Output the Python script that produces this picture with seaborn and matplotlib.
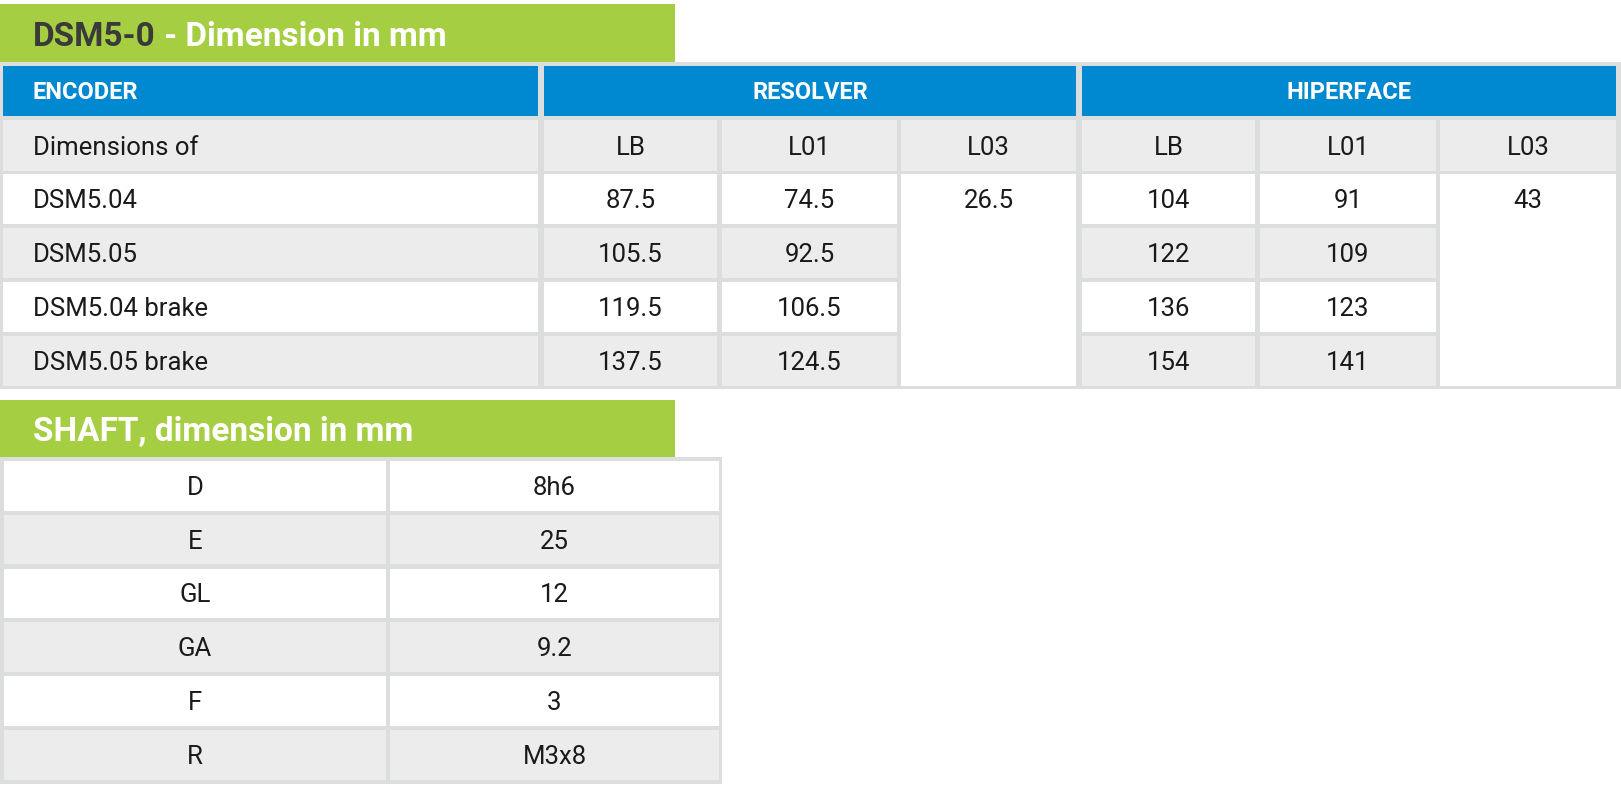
import matplotlib
matplotlib.use("Agg")
import matplotlib.pyplot as plt
import seaborn as sns
from matplotlib.patches import Rectangle

# table contents
models = ["DSM5.04", "DSM5.05", "DSM5.04 brake", "DSM5.05 brake"]
groups = ["RESOLVER", "HIPERFACE"]
sub_cols = ["LB", "L01", "L03"]
resolver_lb = ["87.5", "105.5", "119.5", "137.5"]
resolver_l01 = ["74.5", "92.5", "106.5", "124.5"]
resolver_l03 = "26.5"
hiperface_lb = ["104", "122", "136", "154"]
hiperface_l01 = ["91", "109", "123", "141"]
hiperface_l03 = "43"
shaft_keys = ["D", "E", "GL", "GA", "F", "R"]
shaft_values = ["8h6", "25", "12", "9.2", "3", "M3x8"]

sns.set_style("white")
plt.rcParams['font.family'] = ['Roboto', 'DejaVu Sans']

GREEN = "#a6ce42"
BLUE = "#0089d0"
BORDER = "#dcdddd"
GREY = "#ececec"
WHITE = "#ffffff"
TXT = "#1a1a1a"
FS = 18.5
DY = 2  # small downward nudge of body text

fig = plt.figure(figsize=(16.21, 7.97), dpi=100)
ax = fig.add_axes([0, 0, 1, 1])
ax.set_xlim(0, 1621)
ax.set_ylim(797, 0)
ax.axis("off")


def box(x0, y0, x1, y1, color):
    ax.add_patch(Rectangle((x0, y0), x1 - x0, y1 - y0, facecolor=color, edgecolor="none"))


# ---- first table ----
box(0, 4, 675, 62, GREEN)
t1 = ax.text(33, 37, "DSM5-0", color="#3a3a3a", fontsize=24, fontweight="bold", va="center", ha="left")
fig.canvas.draw()
bb = t1.get_window_extent(renderer=fig.canvas.get_renderer())
x_end = ax.transData.inverted().transform((bb.x1, bb.y0))[0]
ax.text(x_end, 37, " - Dimension in mm", color="white", fontsize=24, fontweight="bold", va="center", ha="left")

box(0, 62, 1621, 389, BORDER)
col_x = [(3, 538), (544, 717), (722, 897), (901, 1076), (1082, 1255), (1260, 1436), (1440, 1616)]
row_y = [(120, 171), (174, 224), (228, 278), (282, 332), (336, 386)]

# blue header
box(col_x[0][0], 66, col_x[0][1], 116, BLUE)
box(col_x[1][0], 66, col_x[3][1], 116, BLUE)
box(col_x[4][0], 66, col_x[6][1], 116, BLUE)
ax.text(33, 92, "ENCODER", color="white", fontsize=17, fontweight="bold", va="center")
for g, (a, b) in zip(groups, [(1, 3), (4, 6)]):
    ax.text((col_x[a][0] + col_x[b][1]) / 2, 92, g, color="white", fontsize=17,
            fontweight="bold", va="center", ha="center")

# sub header
for i, (x0, x1) in enumerate(col_x):
    box(x0, row_y[0][0], x1, row_y[0][1], GREY)
ym = sum(row_y[0]) / 2 + DY
ax.text(33, ym, "Dimensions of", color=TXT, fontsize=FS, va="center")
for k, name in enumerate(sub_cols * 2):
    x0, x1 = col_x[k + 1]
    ax.text((x0 + x1) / 2, ym, name, color=TXT, fontsize=FS, va="center", ha="center")

# body rows
values = [resolver_lb, resolver_l01, None, hiperface_lb, hiperface_l01, None]
for r, m in enumerate(models):
    y0, y1 = row_y[r + 1]
    c = WHITE if r % 2 == 0 else GREY
    yc = (y0 + y1) / 2 + DY
    box(col_x[0][0], y0, col_x[0][1], y1, c)
    ax.text(33, yc, m, color=TXT, fontsize=FS, va="center")
    for k, vals in enumerate(values):
        if vals is None:
            continue
        x0, x1 = col_x[k + 1]
        box(x0, y0, x1, y1, c)
        ax.text((x0 + x1) / 2, yc, vals[r], color=TXT, fontsize=FS, va="center", ha="center")

# merged L03 cells
for k, v in [(3, resolver_l03), (6, hiperface_l03)]:
    x0, x1 = col_x[k]
    box(x0, row_y[1][0], x1, row_y[4][1], WHITE)
    ax.text((x0 + x1) / 2, sum(row_y[1]) / 2 + DY, v, color=TXT, fontsize=FS, va="center", ha="center")

# ---- shaft table ----
box(0, 400, 675, 457, GREEN)
ax.text(33, 432, "SHAFT, dimension in mm", color="white", fontsize=24, fontweight="bold",
        va="center", ha="left")
box(0, 457, 722, 784, BORDER)
s_cols = [(4, 386), (390, 719)]
for i, (k, v) in enumerate(zip(shaft_keys, shaft_values)):
    y0 = 461 + i * 53.8
    y1 = y0 + 49.5
    c = WHITE if i % 2 == 0 else GREY
    for (x0, x1), t in zip(s_cols, [k, v]):
        box(x0, y0, x1, y1, c)
        ax.text((x0 + x1) / 2, (y0 + y1) / 2 + DY, t, color=TXT, fontsize=FS, va="center", ha="center")

fig.savefig("out.png", dpi=100)
